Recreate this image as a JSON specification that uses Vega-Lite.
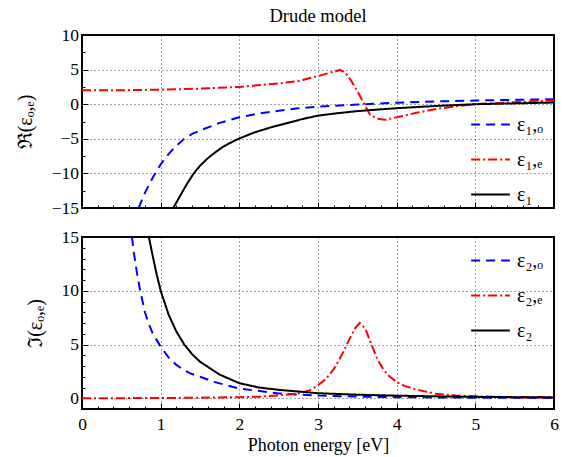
{
  "$schema": "https://vega.github.io/schema/vega-lite/v6.json",
  "background": "white",
  "padding": {"left": 14, "top": 5, "right": 5, "bottom": 5},
  "spacing": 29,
  "bounds": "flush",
  "config": {
    "view": {"stroke": "black", "strokeWidth": 2},
    "font": "Liberation Serif",
    "axis": {
      "labelFont": "Liberation Serif", "labelFontSize": 17.5, "labelColor": "black",
      "titleFont": "Liberation Serif", "titleFontSize": 18, "titleFontWeight": "normal", "titleColor": "black",
      "domain": false, "tickColor": "black", "tickWidth": 1, "gridColor": "#111", "gridDash": [1, 3], "gridWidth": 1,
      "labelFlush": false, "labelOverlap": false, "labelPadding": 12
    },
    "legend": {
      "orient": "none", "title": null, "symbolType": "stroke", "symbolSize": 1500, "symbolStrokeWidth": 2,
      "labelFont": "Liberation Serif", "labelFontSize": 20, "labelColor": "black", "rowPadding": 4, "padding": 0, "labelOffset": 6
    }
  },
  "datasets": {
    "re": [
      {"x": 0.72, "y": -15, "s": "ε₁,ₒ"}, {"x": 0.8, "y": -12.8, "s": "ε₁,ₒ"}, {"x": 0.9, "y": -10.6, "s": "ε₁,ₒ"}, {"x": 1.0, "y": -8.7, "s": "ε₁,ₒ"}, {"x": 1.1, "y": -7.2, "s": "ε₁,ₒ"}, {"x": 1.2, "y": -6.0, "s": "ε₁,ₒ"}, {"x": 1.3, "y": -5.0, "s": "ε₁,ₒ"}, {"x": 1.4, "y": -4.3, "s": "ε₁,ₒ"}, {"x": 1.5, "y": -3.8, "s": "ε₁,ₒ"}, {"x": 1.75, "y": -2.7, "s": "ε₁,ₒ"}, {"x": 2.0, "y": -1.9, "s": "ε₁,ₒ"}, {"x": 2.25, "y": -1.35, "s": "ε₁,ₒ"}, {"x": 2.5, "y": -0.95, "s": "ε₁,ₒ"}, {"x": 2.75, "y": -0.6, "s": "ε₁,ₒ"}, {"x": 3.0, "y": -0.35, "s": "ε₁,ₒ"}, {"x": 3.5, "y": -0.05, "s": "ε₁,ₒ"}, {"x": 4.0, "y": 0.22, "s": "ε₁,ₒ"}, {"x": 4.5, "y": 0.4, "s": "ε₁,ₒ"}, {"x": 5.0, "y": 0.53, "s": "ε₁,ₒ"}, {"x": 5.5, "y": 0.63, "s": "ε₁,ₒ"}, {"x": 6.0, "y": 0.72, "s": "ε₁,ₒ"},
      {"x": 0, "y": 2.0, "s": "ε₁,ₑ"}, {"x": 0.5, "y": 2.02, "s": "ε₁,ₑ"}, {"x": 1.0, "y": 2.1, "s": "ε₁,ₑ"}, {"x": 1.5, "y": 2.25, "s": "ε₁,ₑ"}, {"x": 2.0, "y": 2.5, "s": "ε₁,ₑ"}, {"x": 2.5, "y": 3.0, "s": "ε₁,ₑ"}, {"x": 2.75, "y": 3.35, "s": "ε₁,ₑ"}, {"x": 3.0, "y": 4.05, "s": "ε₁,ₑ"}, {"x": 3.15, "y": 4.55, "s": "ε₁,ₑ"}, {"x": 3.28, "y": 4.95, "s": "ε₁,ₑ"}, {"x": 3.35, "y": 4.5, "s": "ε₁,ₑ"}, {"x": 3.41, "y": 3.6, "s": "ε₁,ₑ"}, {"x": 3.51, "y": 1.7, "s": "ε₁,ₑ"}, {"x": 3.6, "y": -0.25, "s": "ε₁,ₑ"}, {"x": 3.66, "y": -1.5, "s": "ε₁,ₑ"}, {"x": 3.75, "y": -2.1, "s": "ε₁,ₑ"}, {"x": 3.85, "y": -2.25, "s": "ε₁,ₑ"}, {"x": 4.0, "y": -1.9, "s": "ε₁,ₑ"}, {"x": 4.25, "y": -1.25, "s": "ε₁,ₑ"}, {"x": 4.5, "y": -0.7, "s": "ε₁,ₑ"}, {"x": 4.75, "y": -0.3, "s": "ε₁,ₑ"}, {"x": 5.0, "y": 0.0, "s": "ε₁,ₑ"}, {"x": 5.5, "y": 0.3, "s": "ε₁,ₑ"}, {"x": 6.0, "y": 0.55, "s": "ε₁,ₑ"},
      {"x": 1.16, "y": -15, "s": "ε₁"}, {"x": 1.25, "y": -13.2, "s": "ε₁"}, {"x": 1.33, "y": -11.6, "s": "ε₁"}, {"x": 1.42, "y": -10, "s": "ε₁"}, {"x": 1.5, "y": -8.9, "s": "ε₁"}, {"x": 1.6, "y": -7.8, "s": "ε₁"}, {"x": 1.7, "y": -6.9, "s": "ε₁"}, {"x": 1.8, "y": -6.1, "s": "ε₁"}, {"x": 1.9, "y": -5.5, "s": "ε₁"}, {"x": 2.0, "y": -4.95, "s": "ε₁"}, {"x": 2.2, "y": -4.05, "s": "ε₁"}, {"x": 2.4, "y": -3.35, "s": "ε₁"}, {"x": 2.6, "y": -2.75, "s": "ε₁"}, {"x": 2.8, "y": -2.15, "s": "ε₁"}, {"x": 3.0, "y": -1.65, "s": "ε₁"}, {"x": 3.25, "y": -1.3, "s": "ε₁"}, {"x": 3.5, "y": -1.0, "s": "ε₁"}, {"x": 3.75, "y": -0.78, "s": "ε₁"}, {"x": 4.0, "y": -0.58, "s": "ε₁"}, {"x": 4.5, "y": -0.25, "s": "ε₁"}, {"x": 5.0, "y": 0.0, "s": "ε₁"}, {"x": 5.5, "y": 0.12, "s": "ε₁"}, {"x": 6.0, "y": 0.24, "s": "ε₁"}
    ],
    "im": [
      {"x": 0.635, "y": 15, "s": "ε₂,ₒ"}, {"x": 0.66, "y": 13.5, "s": "ε₂,ₒ"}, {"x": 0.7, "y": 11.6, "s": "ε₂,ₒ"}, {"x": 0.74, "y": 10, "s": "ε₂,ₒ"}, {"x": 0.8, "y": 8.0, "s": "ε₂,ₒ"}, {"x": 0.85, "y": 6.9, "s": "ε₂,ₒ"}, {"x": 0.9, "y": 6.0, "s": "ε₂,ₒ"}, {"x": 1.0, "y": 4.8, "s": "ε₂,ₒ"}, {"x": 1.1, "y": 3.8, "s": "ε₂,ₒ"}, {"x": 1.2, "y": 3.1, "s": "ε₂,ₒ"}, {"x": 1.3, "y": 2.6, "s": "ε₂,ₒ"}, {"x": 1.4, "y": 2.25, "s": "ε₂,ₒ"}, {"x": 1.5, "y": 2.0, "s": "ε₂,ₒ"}, {"x": 1.69, "y": 1.5, "s": "ε₂,ₒ"}, {"x": 2.0, "y": 0.9, "s": "ε₂,ₒ"}, {"x": 2.5, "y": 0.45, "s": "ε₂,ₒ"}, {"x": 3.0, "y": 0.25, "s": "ε₂,ₒ"}, {"x": 3.5, "y": 0.15, "s": "ε₂,ₒ"}, {"x": 4.0, "y": 0.1, "s": "ε₂,ₒ"}, {"x": 5.0, "y": 0.05, "s": "ε₂,ₒ"}, {"x": 6.0, "y": 0.03, "s": "ε₂,ₒ"},
      {"x": 0, "y": 0.0, "s": "ε₂,ₑ"}, {"x": 0.5, "y": 0.01, "s": "ε₂,ₑ"}, {"x": 1.0, "y": 0.02, "s": "ε₂,ₑ"}, {"x": 1.5, "y": 0.05, "s": "ε₂,ₑ"}, {"x": 2.0, "y": 0.1, "s": "ε₂,ₑ"}, {"x": 2.25, "y": 0.15, "s": "ε₂,ₑ"}, {"x": 2.5, "y": 0.25, "s": "ε₂,ₑ"}, {"x": 2.75, "y": 0.45, "s": "ε₂,ₑ"}, {"x": 2.9, "y": 0.75, "s": "ε₂,ₑ"}, {"x": 3.0, "y": 1.2, "s": "ε₂,ₑ"}, {"x": 3.1, "y": 1.8, "s": "ε₂,ₑ"}, {"x": 3.2, "y": 2.7, "s": "ε₂,ₑ"}, {"x": 3.3, "y": 4.0, "s": "ε₂,ₑ"}, {"x": 3.4, "y": 5.5, "s": "ε₂,ₑ"}, {"x": 3.47, "y": 6.5, "s": "ε₂,ₑ"}, {"x": 3.53, "y": 7.0, "s": "ε₂,ₑ"}, {"x": 3.6, "y": 6.5, "s": "ε₂,ₑ"}, {"x": 3.68, "y": 5.0, "s": "ε₂,ₑ"}, {"x": 3.75, "y": 3.7, "s": "ε₂,ₑ"}, {"x": 3.83, "y": 2.7, "s": "ε₂,ₑ"}, {"x": 3.9, "y": 2.1, "s": "ε₂,ₑ"}, {"x": 4.0, "y": 1.5, "s": "ε₂,ₑ"}, {"x": 4.1, "y": 1.15, "s": "ε₂,ₑ"}, {"x": 4.25, "y": 0.8, "s": "ε₂,ₑ"}, {"x": 4.5, "y": 0.42, "s": "ε₂,ₑ"}, {"x": 4.75, "y": 0.26, "s": "ε₂,ₑ"}, {"x": 5.0, "y": 0.18, "s": "ε₂,ₑ"}, {"x": 5.5, "y": 0.1, "s": "ε₂,ₑ"}, {"x": 6.0, "y": 0.07, "s": "ε₂,ₑ"},
      {"x": 0.85, "y": 15, "s": "ε₂"}, {"x": 0.9, "y": 13.2, "s": "ε₂"}, {"x": 0.95, "y": 11.5, "s": "ε₂"}, {"x": 1.0, "y": 10, "s": "ε₂"}, {"x": 1.1, "y": 7.8, "s": "ε₂"}, {"x": 1.2, "y": 6.2, "s": "ε₂"}, {"x": 1.3, "y": 5.0, "s": "ε₂"}, {"x": 1.4, "y": 4.1, "s": "ε₂"}, {"x": 1.5, "y": 3.4, "s": "ε₂"}, {"x": 1.75, "y": 2.2, "s": "ε₂"}, {"x": 2.0, "y": 1.4, "s": "ε₂"}, {"x": 2.25, "y": 1.0, "s": "ε₂"}, {"x": 2.5, "y": 0.78, "s": "ε₂"}, {"x": 3.0, "y": 0.47, "s": "ε₂"}, {"x": 3.5, "y": 0.33, "s": "ε₂"}, {"x": 4.0, "y": 0.24, "s": "ε₂"}, {"x": 4.5, "y": 0.18, "s": "ε₂"}, {"x": 5.0, "y": 0.13, "s": "ε₂"}, {"x": 5.5, "y": 0.1, "s": "ε₂"}, {"x": 6.0, "y": 0.08, "s": "ε₂"}
    ]
  },
  "vconcat": [
    {
      "width": 472, "height": 173,
      "title": {"text": "Drude model", "font": "Liberation Serif", "fontSize": 18.5, "fontWeight": "normal", "color": "black", "anchor": "middle", "frame": "group", "offset": 1},
      "data": {"name": "re"},
      "mark": {"type": "line", "strokeWidth": 2, "clip": true},
      "encoding": {
        "x": {"field": "x", "type": "quantitative", "scale": {"domain": [0, 6], "nice": false},
          "axis": {"title": null, "labels": false, "grid": true,
            "values": [0, 0.2, 0.4, 0.6, 0.8, 1, 1.2, 1.4, 1.6, 1.8, 2, 2.2, 2.4, 2.6, 2.8, 3, 3.2, 3.4, 3.6, 3.8, 4, 4.2, 4.4, 4.6, 4.8, 5, 5.2, 5.4, 5.6, 5.8, 6],
            "tickSize": {"condition": {"test": "abs(datum.value - round(datum.value)) < 0.001", "value": -6}, "value": -3},
            "gridOpacity": {"condition": {"test": "abs(datum.value - round(datum.value)) < 0.001", "value": 0.8}, "value": 0}}},
        "y": {"field": "y", "type": "quantitative", "scale": {"domain": [-15, 10], "nice": false},
          "axis": {"title": "ℜ(εₒ,ₑ)", "titleFontSize": 20, "grid": true, "titlePadding": 16, "format": "d", "labelOverlap": false, "labelPadding": 9.5,
            "values": [-15, -12.5, -10, -7.5, -5, -2.5, 0, 2.5, 5, 7.5, 10],
            "labelExpr": "datum.value % 5 === 0 ? datum.label : ''",
            "tickSize": {"condition": {"test": "datum.value % 5 === 0", "value": -6}, "value": -3},
            "gridOpacity": {"condition": {"test": "datum.value % 5 === 0", "value": 0.8}, "value": 0}}},
        "color": {"field": "s", "type": "nominal", "scale": {"domain": ["ε₁,ₒ", "ε₁,ₑ", "ε₁"], "range": ["#0000ff", "#ff0000", "#000000"]},
          "legend": {"legendX": 388, "legendY": 69}},
        "strokeDash": {"field": "s", "type": "nominal", "scale": {"domain": ["ε₁,ₒ", "ε₁,ₑ", "ε₁"], "range": [[9, 6], [9, 3, 2, 3], [1, 0]]},
          "legend": {"legendX": 388, "legendY": 69}}
      }
    },
    {
      "width": 472, "height": 172,
      "data": {"name": "im"},
      "mark": {"type": "line", "strokeWidth": 2, "clip": true},
      "encoding": {
        "x": {"field": "x", "type": "quantitative", "scale": {"domain": [0, 6], "nice": false},
          "axis": {"title": "Photon energy [eV]", "grid": true, "titlePadding": 1, "labelOverlap": false,
            "values": [0, 0.2, 0.4, 0.6, 0.8, 1, 1.2, 1.4, 1.6, 1.8, 2, 2.2, 2.4, 2.6, 2.8, 3, 3.2, 3.4, 3.6, 3.8, 4, 4.2, 4.4, 4.6, 4.8, 5, 5.2, 5.4, 5.6, 5.8, 6],
            "labelExpr": "abs(datum.value - round(datum.value)) < 0.001 ? format(datum.value, 'd') : ''",
            "tickSize": {"condition": {"test": "abs(datum.value - round(datum.value)) < 0.001", "value": -6}, "value": -3},
            "gridOpacity": {"condition": {"test": "abs(datum.value - round(datum.value)) < 0.001", "value": 0.8}, "value": 0}}},
        "y": {"field": "y", "type": "quantitative", "scale": {"domain": [-1, 15], "nice": false},
          "axis": {"title": "ℑ(εₒ,ₑ)", "titleFontSize": 20, "grid": true, "titlePadding": 16, "format": "d", "labelOverlap": false, "labelPadding": 9.5,
            "values": [0, 1, 2, 3, 4, 5, 6, 7, 8, 9, 10, 11, 12, 13, 14, 15],
            "labelExpr": "datum.value % 5 === 0 ? datum.label : ''",
            "tickSize": {"condition": {"test": "datum.value % 5 === 0", "value": -6}, "value": -3},
            "gridOpacity": {"condition": {"test": "datum.value % 5 === 0", "value": 0.8}, "value": 0}}},
        "color": {"field": "s", "type": "nominal", "scale": {"domain": ["ε₂,ₒ", "ε₂,ₑ", "ε₂"], "range": ["#0000ff", "#ff0000", "#000000"]},
          "legend": {"legendX": 388, "legendY": 3}},
        "strokeDash": {"field": "s", "type": "nominal", "scale": {"domain": ["ε₂,ₒ", "ε₂,ₑ", "ε₂"], "range": [[9, 6], [9, 3, 2, 3], [1, 0]]},
          "legend": {"legendX": 388, "legendY": 3}}
      }
    }
  ],
  "resolve": {"scale": {"color": "independent", "strokeDash": "independent"}, "legend": {"color": "independent", "strokeDash": "independent"}}
}
